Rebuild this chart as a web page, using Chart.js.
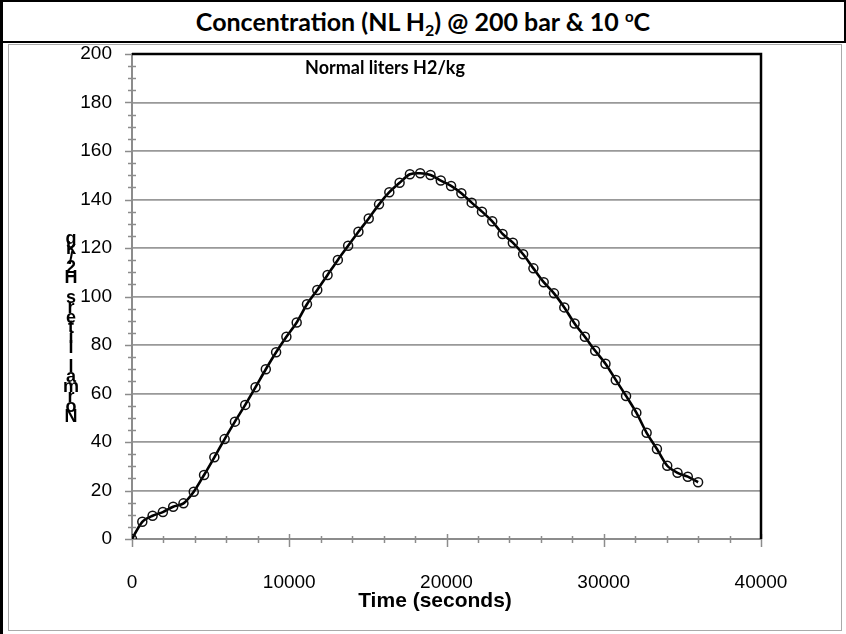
<!DOCTYPE html>
<html><head><meta charset="utf-8">
<script src="https://cdn.jsdelivr.net/npm/chart.js@4"></script>
<style>
html,body{margin:0;padding:0;background:#fff;}
#wrap{position:relative;width:846px;height:634px;overflow:hidden;background:#fff;}
#title{position:absolute;left:0;top:0;width:846px;height:43px;box-sizing:border-box;border:2px solid #000;font:bold 25px Lato,"Open Sans",sans-serif;text-align:center;line-height:39px;color:#000;}
#title .sb{font-size:16px;position:relative;top:5px;}
#title .sp{font-size:15px;position:relative;top:-9px;}
#leftline{position:absolute;left:0;top:0;width:3px;height:634px;background:#000;}
#frame{position:absolute;left:8px;top:44px;width:834px;height:587px;border:1px solid #aaa;box-sizing:border-box;}
#c{position:absolute;left:0;top:0;}
</style>
</head><body>
<div id="wrap">
  <div id="frame"></div>
  <div id="leftline"></div>
  <div id="title">Concentration (NL H<span class="sb">2</span>) @ 200 bar &amp; 10 <span class="sp">o</span>C</div>
  <canvas id="c" width="846" height="634"></canvas>
</div>
<script>
// ---- data ----
const timeSeconds = [0, 655, 1309, 1964, 2618, 3273, 3927, 4582, 5236, 5891, 6545, 7200, 7855, 8509, 9164, 9818, 10473, 11127, 11782, 12436, 13091, 13745, 14400, 15055, 15709, 16364, 17018, 17673, 18327, 18982, 19636, 20291, 20945, 21600, 22255, 22909, 23564, 24218, 24873, 25527, 26182, 26836, 27491, 28145, 28800, 29455, 30109, 30764, 31418, 32073, 32727, 33382, 34036, 34691, 35345, 36000];
const normalLitersH2 = [0, 7.1, 9.6, 11.1, 13.3, 14.7, 19.5, 26.4, 33.7, 41.2, 48.4, 55.3, 62.6, 70.0, 77.0, 83.4, 89.3, 96.8, 102.7, 108.9, 115.1, 120.9, 126.7, 132.2, 138.0, 143.0, 146.9, 150.4, 150.8, 150.1, 147.8, 145.6, 142.6, 138.7, 135.0, 131.0, 125.8, 122.2, 117.4, 111.6, 105.9, 101.3, 95.5, 88.9, 83.4, 77.6, 72.3, 65.6, 59.0, 52.1, 43.8, 37.1, 30.2, 27.3, 25.7, 23.4];
const xTickValues = [0, 10000, 20000, 30000, 40000];
const yTickValues = [0, 20, 40, 60, 80, 100, 120, 140, 160, 180, 200];
const xMinorStep = 2000;
const yMinorStep = 5;
const seriesTitle = "Normal liters H2/kg";
const xAxisTitle = "Time (seconds)";
const yAxisTitle = "Normal liters H2/kg";

const points = timeSeconds.map((t, i) => ({x: t, y: normalLitersH2[i]}));

const decor = {
  id: 'decor',
  beforeDatasetsDraw(chart) {
    const ctx = chart.ctx, a = chart.chartArea;
    const xs = chart.scales.x, ys = chart.scales.y;
    ctx.save();
    ctx.strokeStyle = '#8c8c8c';
    ctx.lineWidth = 1.5;
    for (let v = xs.min; v <= xs.max; v += xMinorStep) {
      const px = Math.round(xs.getPixelForValue(v)) + 0.5;
      const major = xTickValues.includes(v);
      ctx.beginPath();
      ctx.moveTo(px, a.bottom - (major ? 5 : 3));
      ctx.lineTo(px, a.bottom + (major ? 8 : 4));
      ctx.stroke();
    }
    for (let v = ys.min; v <= ys.max; v += yMinorStep) {
      const py = Math.round(ys.getPixelForValue(v)) + 0.5;
      const major = yTickValues.includes(v);
      ctx.beginPath();
      ctx.moveTo(a.left - (major ? 7 : 4), py);
      ctx.lineTo(a.left + (major ? 0 : 4), py);
      ctx.stroke();
    }
    ctx.strokeStyle = '#000';
    ctx.lineWidth = 2.5;
    ctx.beginPath();
    ctx.moveTo(a.left, a.top);
    ctx.lineTo(a.right, a.top);
    ctx.lineTo(a.right, a.bottom);
    ctx.stroke();
    ctx.restore();
  },
  afterDraw(chart) {
    const ctx = chart.ctx;
    ctx.save();
    ctx.fillStyle = '#000';
    ctx.textAlign = 'center';
    ctx.textBaseline = 'middle';
    ctx.font = 'bold 18px Lato, "Open Sans", sans-serif';
    ctx.fillText(seriesTitle, 385, 68);
    ctx.font = 'bold 21px "Liberation Sans", Arial, sans-serif';
    ctx.fillText(xAxisTitle, 435, 601);
    ctx.font = 'bold 18px "Liberation Sans", Arial, sans-serif';
    const chars = Array.from(yAxisTitle);
    const bottomY = 417, step = 9.9;
    chars.forEach((ch, i) => {
      if (ch !== ' ') ctx.fillText(ch, 71, bottomY - i * step);
    });
    ctx.restore();
  }
};

new Chart(document.getElementById('c'), {
  type: 'line',
  data: {
    datasets: [{
      label: seriesTitle,
      data: points,
      borderColor: '#000',
      borderWidth: 2.6,
      tension: 0.3,
      pointRadius: 4.5,
      pointBorderWidth: 1.5,
      pointBorderColor: '#111',
      pointBackgroundColor: 'rgba(255,255,255,0)',
      pointStyle: 'circle',
      fill: false
    }]
  },
  options: {
    responsive: false,
    animation: false,
    layout: {padding: {top: 54, right: 85, bottom: 0, left: 0}},
    plugins: {legend: {display: false}, tooltip: {enabled: false}, title: {display: false}},
    scales: {
      x: {
        type: 'linear', min: 0, max: 40000,
        afterFit(s) { s.height = 95; },
        afterBuildTicks(s) { s.ticks = xTickValues.map(v => ({value: v})); },
        grid: {display: false, drawTicks: false},
        border: {display: true, color: '#8c8c8c', width: 2},
        ticks: {padding: 32, color: '#000', maxRotation: 0, font: {family: '"Liberation Sans", Arial, sans-serif', size: 19}, callback: v => String(v)}
      },
      y: {
        min: 0, max: 200,
        afterFit(s) { s.width = 132; },
        afterBuildTicks(s) { s.ticks = yTickValues.map(v => ({value: v})); },
        grid: {display: true, color: '#999', lineWidth: 1.7, drawTicks: false},
        border: {display: true, color: '#8c8c8c', width: 2},
        ticks: {padding: 20, color: '#000', font: {family: '"Liberation Sans", Arial, sans-serif', size: 19}, callback: v => String(v)}
      }
    }
  },
  plugins: [decor]
});
</script>
</body></html>
